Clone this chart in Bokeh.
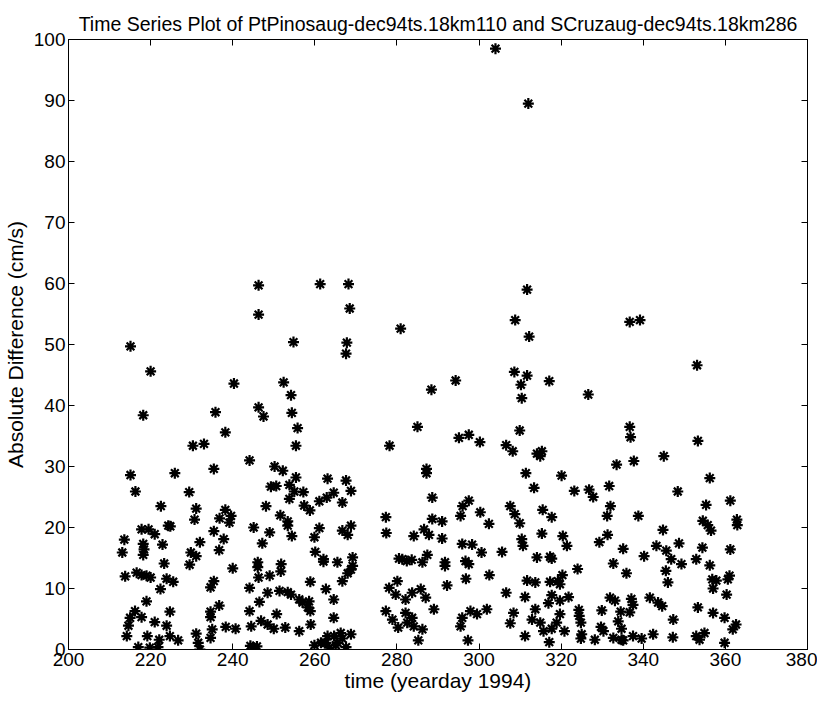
from bokeh.plotting import figure
from bokeh.models import LinearAxis, FixedTicker, Range1d
from bokeh.embed import file_html
from bokeh.resources import INLINE

title_text = "Time Series Plot of PtPinosaug-dec94ts.18km110 and SCruzaug-dec94ts.18km286"
x_label = "time (yearday 1994)"
y_label = "Absolute Difference (cm/s)"
x_ticks = [200, 220, 240, 260, 280, 300, 320, 340, 360, 380]
y_ticks = [0, 10, 20, 30, 40, 50, 60, 70, 80, 90, 100]

# yearday of each sample
day = [
    213.1, 213.6, 213.8, 214.2, 214.6, 215.0, 215.1, 215.1, 216.2, 216.3, 216.6, 217.0, 217.8, 217.8, 217.8,
    218.2, 218.2, 218.4, 218.2, 219.0, 219.0, 219.2, 219.5, 219.8, 220.0, 220.0, 221.0, 221.0, 221.8, 222.1,
    222.4, 222.5, 222.9, 223.3, 223.9, 223.9, 224.3, 224.8, 224.7, 224.7, 225.5, 225.9, 226.7,
    229.4, 229.8, 229.5, 230.3, 230.7, 231.1, 231.1, 231.1, 231.6, 232.0, 232.0, 233.0, 234.6, 234.6, 234.6,
    234.6, 235.0, 235.4, 235.4, 235.4, 235.8, 236.7, 236.7, 236.8, 237.8, 238.2, 238.2, 238.3, 239.2, 239.6,
    240.0, 240.3, 240.7,
    244.1, 244.1, 244.1, 244.5, 244.3, 244.9, 245.1, 245.9, 246.1, 246.1, 246.3, 246.3, 246.3, 246.3, 246.5,
    246.9, 247.2, 247.5, 248.1, 248.5, 248.5, 249.0, 249.0, 249.3, 250.0, 250.2, 250.6, 250.7, 251.4, 251.6,
    251.7, 251.8, 252.2, 252.4, 252.8,
    253.4, 253.4, 253.4, 253.8, 253.8, 254.2, 254.2, 254.4, 254.4, 254.8, 255.0, 255.4, 255.4, 255.8, 256.2,
    256.2, 257.0, 257.2, 257.4, 258.3, 258.6, 258.8, 258.9, 258.9, 259.0, 259.9, 259.9, 260.1, 261.1, 261.1,
    261.3, 261.5, 262.1, 262.1, 262.7, 262.7, 262.9, 263.1, 263.1, 263.5, 264.6, 264.6, 264.6, 264.7, 265.1,
    265.5, 265.5, 266.7, 266.3, 266.7, 266.7, 266.7, 267.6, 267.6, 267.6, 267.8, 268.0, 268.0, 268.2, 268.5,
    268.8, 268.8, 268.8, 268.8, 269.2, 269.2,
    277.3, 277.4, 277.3, 278.1, 278.2, 278.9, 279.7, 280.1, 280.3, 280.5, 280.9, 281.3, 282.1, 282.1, 282.4,
    282.5, 283.6, 283.7, 283.7, 284.1, 284.1, 285.0, 285.2, 285.8, 286.2, 286.2, 286.6, 287.0, 287.2, 287.2,
    287.4, 287.8, 288.4, 288.6, 288.6, 289.0, 291.0, 291.0, 291.7, 291.7, 292.2,
    294.3, 295.1, 295.5, 295.5, 296.0, 297.5, 295.9, 295.9, 296.7, 296.8, 297.3, 297.5, 297.5, 297.9, 298.3,
    299.5, 300.2, 300.3, 300.6, 301.9, 302.4, 302.5, 304.0,
    305.6, 306.6, 306.6, 307.6, 307.6, 308.2, 308.4, 308.6, 308.7, 308.8, 309.9, 309.9, 310.2, 310.4, 310.4,
    310.7, 311.2, 311.2, 311.4, 311.7, 311.7, 311.7, 312.0, 312.2, 312.9, 313.4, 313.7, 313.7,
    314.1, 314.1, 314.9, 314.9, 315.3, 315.3, 315.5, 315.7, 316.9, 317.1, 317.1, 317.3, 317.3, 317.7, 317.7,
    317.7, 317.7, 318.9, 319.2, 319.7, 319.7, 319.7, 320.1, 320.3, 320.4, 320.8, 321.4, 321.8, 323.2, 324.0,
    324.3, 324.4, 324.8, 325.0, 324.8, 326.6, 326.8, 327.8, 328.2,
    329.3, 329.9, 329.7, 330.3, 331.3, 331.2, 331.7, 331.9, 332.0, 332.7, 332.7, 333.1, 333.5, 333.9, 334.5,
    334.7, 334.7, 335.1, 335.1, 335.9, 336.7, 336.7, 336.9, 336.7, 337.1, 337.5, 337.5, 337.7, 338.8, 339.2,
    339.6, 340.2, 341.6, 342.4, 343.2, 343.6, 344.6, 344.8, 345.0, 345.5, 345.6, 346.0, 346.8, 347.2, 347.3,
    348.4, 348.7, 349.3,
    352.9, 352.9, 353.1, 353.3, 353.3, 353.7, 354.4, 354.5, 354.9, 355.3, 355.7, 356.2, 356.2, 356.5, 356.8,
    357.0, 357.0, 357.8, 359.8, 359.8, 360.3, 360.6, 361.0, 361.2, 361.2, 361.8, 362.6, 362.8, 362.9,
]

# absolute difference of the two series (cm/s)
abs_diff = [
    15.9, 18.0, 12.0, 2.2, 3.9, 5.2, 28.6, 49.7, 6.3, 25.9, 12.6, 0.4, 5.3, 12.2, 19.7,
    38.4, 17.3, 16.4, 15.5, 12.1, 7.9, 2.2, 19.7, 0.3, 45.6, 11.8, 18.9, 4.5, 0.4, 1.6,
    9.9, 23.5, 17.2, 14.1, 11.6, 3.9, 20.3, 20.2, 6.2, 2.2, 11.1, 28.9, 1.5,
    25.8, 15.9, 13.9, 33.4, 21.3, 23.1, 15.3, 2.6, 1.1, 17.6, 0.0, 33.7, 10.2, 6.2, 5.3,
    1.9, 3.3, 29.6, 19.4, 11.2, 38.9, 16.3, 7.2, 21.5, 18.1, 35.6, 22.9, 3.7, 20.8, 21.9,
    13.3, 43.6, 3.4,
    31.0, 10.1, 6.3, 3.8, 0.6, 0.4, 20.0, 0.5, 14.3, 13.5, 59.7, 54.9, 39.7, 11.8, 7.8,
    4.7, 17.4, 38.2, 23.5, 9.3, 4.1, 19.2, 12.1, 26.7, 3.4, 30.0, 26.8, 5.8, 9.6, 22.0,
    12.8, 14.0, 29.3, 43.8, 3.6,
    21.0, 20.3, 9.4, 27.0, 24.7, 41.7, 9.0, 38.8, 18.6, 50.4, 25.9, 33.4, 28.2, 36.3, 8.2,
    3.0, 7.7, 25.8, 23.6, 6.9, 7.9, 22.8, 11.1, 6.3, 4.1, 18.4, 0.7, 16.0, 24.3, 19.9,
    59.9, 1.1, 14.8, 14.4, 9.9, 1.1, 24.9, 28.0, 2.2, 0.3, 25.7, 8.2, 5.2, 2.2, 0.7,
    14.3, 1.1, 19.5, 2.7, 24.1, 11.2, 1.8, 0.4, 48.5, 27.7, 50.3, 18.8, 12.5, 59.9, 55.9,
    26.0, 20.3, 13.1, 2.5, 15.1, 13.7,
    21.7, 19.1, 6.3, 10.1, 33.4, 4.9, 9.0, 11.2, 3.6, 14.9, 52.6, 14.8, 8.2, 6.0, 14.5,
    4.4, 14.7, 9.3, 5.2, 18.6, 3.8, 36.5, 1.5, 9.9, 3.3, 14.3, 19.7, 8.5, 29.6, 28.9,
    15.5, 18.8, 42.6, 24.9, 21.4, 6.6, 21.0, 18.2, 14.3, 13.7, 10.5,
    44.1, 34.7, 21.9, 3.8, 23.5, 24.4, 17.3, 5.2, 14.5, 11.6, 1.5, 35.2, 14.0, 6.3, 17.2,
    5.8, 34.0, 22.5, 15.9, 6.6, 20.6, 12.2, 98.5,
    16.0, 33.5, 9.3, 23.5, 4.3, 32.5, 6.0, 45.5, 22.2, 54.0, 35.9, 20.7, 43.4, 41.2, 18.1,
    17.0, 8.6, 2.2, 28.9, 59.0, 44.9, 11.3, 89.5, 51.3, 4.9, 26.5, 11.0, 6.6,
    32.1, 15.1, 31.7, 4.4, 32.5, 19.0, 22.9, 3.0, 7.6, 44.0, 1.2, 15.2, 11.1, 21.7, 14.9,
    8.9, 3.4, 4.4, 11.2, 8.0, 5.8, 10.7, 28.5, 12.2, 18.6, 3.0, 17.0, 8.6, 26.0, 13.2,
    6.5, 5.5, 4.4, 2.5, 1.8, 41.8, 26.2, 25.0, 1.6,
    17.6, 6.4, 3.7, 3.0, 18.8, 21.9, 26.8, 8.5, 23.5, 14.1, 1.9, 8.0, 30.3, 4.6, 6.2,
    3.4, 1.6, 16.5, 1.5, 12.5, 53.7, 36.5, 34.8, 6.1, 8.3, 7.3, 2.2, 30.9, 21.9, 54.0,
    1.8, 15.3, 8.5, 2.5, 17.0, 7.7, 7.1, 19.6, 31.7, 12.9, 16.2, 11.0, 14.8, 2.0, 4.9,
    25.9, 17.4, 14.0,
    14.8, 2.2, 46.6, 34.2, 6.9, 1.6, 16.7, 21.1, 2.7, 23.7, 20.4, 28.1, 13.8, 19.5, 11.5,
    10.0, 6.0, 11.3, 5.2, 1.1, 9.0, 11.5, 12.1, 24.4, 16.4, 3.3, 4.1, 21.3, 20.4,
]

FONT = "Liberation Sans"

p = figure(
    width=817, height=697,
    output_backend="svg", toolbar_location=None,
    x_range=Range1d(200, 380), y_range=Range1d(0, 100),
    min_border_left=65, min_border_right=10, min_border_top=39, min_border_bottom=48,
    background_fill_color="white", border_fill_color="white",
)
p.grid.visible = False
p.outline_line_color = "black"
p.outline_line_width = 1

p.title.text = title_text
p.title.text_font = FONT
p.title.text_font_size = "19.5px"
p.title.text_font_style = "normal"
p.title.align = "center"
p.title.text_color = "black"
p.title.standoff = 9

for ax, ticks in ((p.xaxis[0], x_ticks), (p.yaxis[0], y_ticks)):
    ax.ticker = FixedTicker(ticks=ticks)
    ax.major_tick_in = 6
    ax.major_tick_out = 0
    ax.minor_tick_line_color = None
    ax.axis_line_color = "black"
    ax.major_tick_line_color = "black"
    ax.major_label_text_font = FONT
    ax.major_label_text_font_size = "19px"
    ax.major_label_text_color = "black"
    ax.axis_label_text_font = FONT
    ax.axis_label_text_font_size = "21px"
    ax.axis_label_text_font_style = "normal"
    ax.axis_label_text_color = "black"

p.xaxis[0].axis_label = x_label
p.yaxis[0].axis_label = y_label
p.xaxis[0].major_label_standoff = 3
p.xaxis[0].axis_label_standoff = 0
p.yaxis[0].major_label_standoff = 3
p.yaxis[0].axis_label_standoff = 4

# box ticks on top and right (no labels)
top = LinearAxis(ticker=FixedTicker(ticks=x_ticks), major_tick_in=6, major_tick_out=0,
                 minor_tick_line_color=None, major_label_overrides={t: "" for t in x_ticks},
                 major_label_text_font_size="0px", major_label_standoff=0)
right = LinearAxis(ticker=FixedTicker(ticks=y_ticks), major_tick_in=6, major_tick_out=0,
                   minor_tick_line_color=None, major_label_overrides={t: "" for t in y_ticks},
                   major_label_text_font_size="0px", major_label_standoff=0)
p.add_layout(top, "above")
p.add_layout(right, "right")

p.scatter(day, abs_diff, marker="asterisk", size=11, line_color="black", line_width=2.2)

open("out.html", "w").write(file_html(p, INLINE))
